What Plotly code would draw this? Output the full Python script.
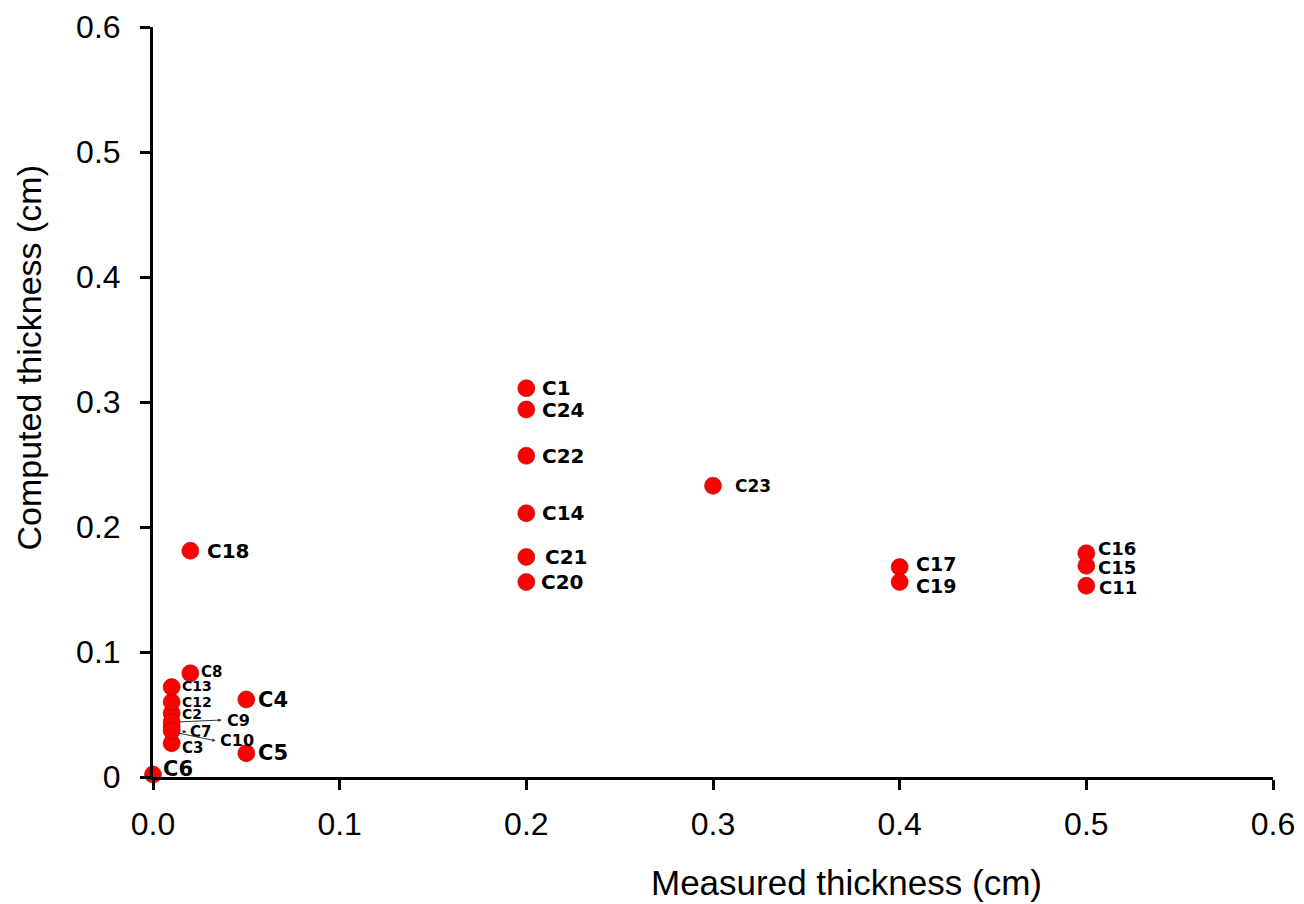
import plotly.graph_objects as go

names = ["C1", "C2", "C3", "C4", "C5", "C6", "C7", "C8", "C9", "C10", "C11", "C12",
         "C13", "C14", "C15", "C16", "C17", "C18", "C19", "C20", "C21", "C22", "C23", "C24"]
measured = [0.2, 0.01, 0.01, 0.05, 0.05, 0.0, 0.01, 0.02, 0.01, 0.01, 0.5, 0.01,
            0.01, 0.2, 0.5, 0.5, 0.4, 0.02, 0.4, 0.2, 0.2, 0.2, 0.3, 0.2]
computed = [0.311, 0.051, 0.027, 0.062, 0.019, 0.002, 0.040, 0.083, 0.044, 0.037, 0.153, 0.060,
            0.072, 0.211, 0.169, 0.179, 0.168, 0.181, 0.156, 0.156, 0.176, 0.257, 0.233, 0.294]

x_ticks = [0.0, 0.1, 0.2, 0.3, 0.4, 0.5, 0.6]
x_tick_text = ["0.0", "0.1", "0.2", "0.3", "0.4", "0.5", "0.6"]
y_ticks = [0.0, 0.1, 0.2, 0.3, 0.4, 0.5, 0.6]
y_tick_text = ["0", "0.1", "0.2", "0.3", "0.4", "0.5", "0.6"]

# label style: (xshift px, yshift px, font size)
label_style = {
    "C1": (14, 0, 20), "C24": (14, 0, 20), "C22": (14, 0, 20), "C14": (14, 0, 20),
    "C21": (17, 0, 20), "C20": (13, 0, 20), "C23": (20, 0, 17), "C18": (15, 0, 20),
    "C17": (14, 3, 19), "C19": (14, -4, 19), "C16": (10, 5, 18), "C15": (10, -2, 18),
    "C11": (11, -2, 18), "C8": (9, 1, 15), "C13": (8, 1, 14), "C12": (8, 0, 14),
    "C2": (8, -1, 14), "C3": (8, -5, 15), "C4": (10, 0, 21), "C5": (10, 0, 21),
    "C6": (8, 6, 21), "C7": (16, -5, 15), "C9": (53, 2, 16), "C10": (46, -10, 16),
}
# leader arrows: name -> (head xshift, head yshift, tail ax, tail ay)
arrows = {
    "C9": (50, 2, -44, 2),
    "C10": (44, -10, -39, -8),
    "C7": (15, -5, -6, -1),
}

FONT = "Liberation Sans, Arial, sans-serif"
LABEL_FONT = "DejaVu Sans, sans-serif"

fig = go.Figure()
fig.add_trace(go.Scatter(
    x=measured, y=computed, mode="markers", cliponaxis=False,
    marker=dict(size=17, color="#FF0000", line=dict(width=0.6, color="#B00000")),
    hoverinfo="text", text=names, showlegend=False,
))

annotations = []
for n, xv, yv in zip(names, measured, computed):
    dx, dy, fs = label_style[n]
    annotations.append(dict(
        x=xv, y=yv, xref="x", yref="y", text=f"<b>{n}</b>", showarrow=False,
        xanchor="left", yanchor="middle", xshift=dx, yshift=dy,
        font=dict(family=LABEL_FONT, size=fs, color="black"),
    ))
    if n in arrows:
        hx, hy, ax, ay = arrows[n]
        annotations.append(dict(
            x=xv, y=yv, xref="x", yref="y", text="", showarrow=True,
            ax=ax, ay=ay, xshift=hx, yshift=hy, arrowhead=2, arrowsize=0.7,
            arrowwidth=1, arrowcolor="#333333", standoff=0, startstandoff=0,
        ))

annotations.append(dict(
    x=0.619, y=-0.141, xref="paper", yref="paper", text="Measured thickness (cm)",
    showarrow=False, xanchor="center", yanchor="middle",
    font=dict(family=FONT, size=35, color="black"),
))
annotations.append(dict(
    x=0, y=0.558, xref="paper", yref="paper", text="Computed thickness (cm)",
    showarrow=False, xanchor="center", yanchor="middle", textangle=-90, xshift=-124,
    font=dict(family=FONT, size=34, color="black"),
))

axis_common = dict(
    showline=True, linecolor="black", linewidth=3, ticks="outside", ticklen=10,
    tickwidth=3, tickcolor="black", showgrid=False, zeroline=False, automargin=False,
    tickfont=dict(family=FONT, size=32, color="black"),
)

# the page body has an 8px margin, so the figure is sized to fit the window
fig.update_layout(
    width=1296, height=896, paper_bgcolor="white", plot_bgcolor="white",
    margin=dict(l=145, r=31, t=19, b=127, autoexpand=False),
    xaxis=dict(range=[0, 0.6], tickvals=x_ticks, ticktext=x_tick_text,
               ticklabelstandoff=7, **axis_common),
    yaxis=dict(range=[0, 0.6], tickvals=y_ticks, ticktext=y_tick_text,
               ticklabelstandoff=13, **axis_common),
    annotations=annotations,
)

fig.write_html("out.html")
